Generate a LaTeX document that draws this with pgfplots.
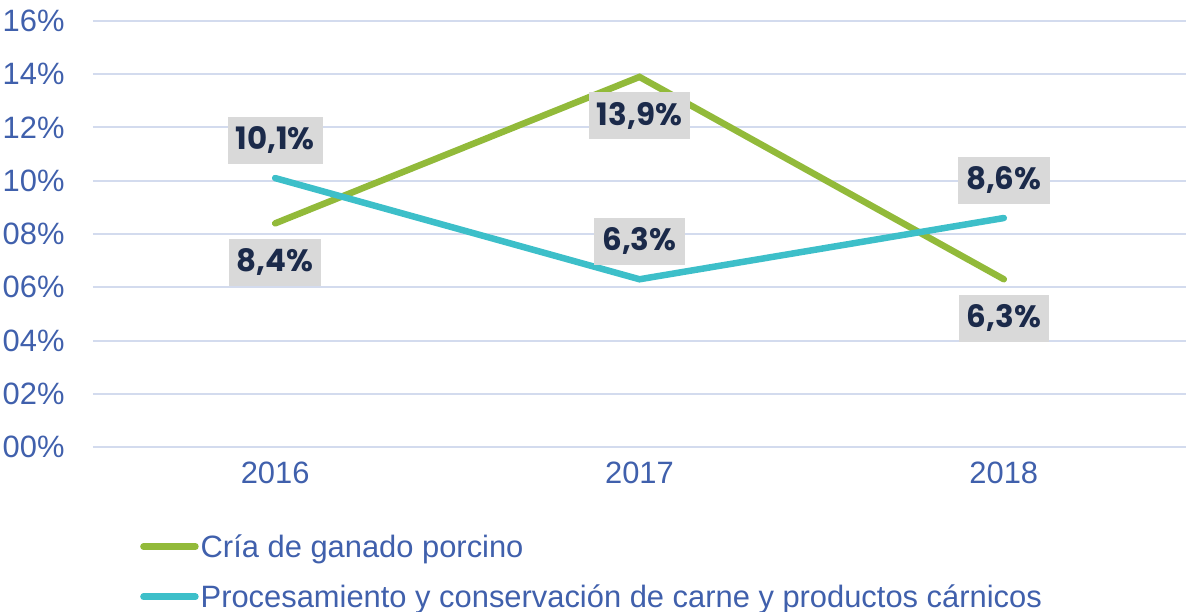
\documentclass[border=0pt]{standalone}
\usepackage{fontspec}
\setmainfont{Liberation Sans}
\newfontfamily\labfont{Poppins}
\usepackage{pgfplots}
\pgfplotsset{compat=1.18}
\definecolor{tickblue}{HTML}{4060AC}
\definecolor{cgreen}{HTML}{92BA3A}
\definecolor{cteal}{HTML}{3DBFC9}
\definecolor{gridc}{HTML}{D3DBEE}
\definecolor{boxgray}{HTML}{D9D9D9}
\definecolor{navy}{HTML}{1B2A4A}
\pgfplotstableread{
x y lab
0 8.4 {8,4\%}
1 13.9 {13,9\%}
2 6.3 {6,3\%}
}\green
\pgfplotstableread{
x y lab
0 10.1 {10,1\%}
1 6.3 {6,3\%}
2 8.6 {8,6\%}
}\teal
\begin{document}
\begin{tikzpicture}
\useasboundingbox (-93bp,-165bp) rectangle (1093bp,447bp);
\begin{axis}[
  at={(0,0)}, anchor=south west,
  scale only axis, width=1093bp, height=426bp,
  xmin=-0.5, xmax=2.5, ymin=0, ymax=16,
  xtick={0,1,2}, xticklabels={2016,2017,2018},
  ytick={0,2,...,16},
  yticklabels={00\%,02\%,04\%,06\%,08\%,10\%,12\%,14\%,16\%},
  axis line style={draw=none}, major tick length=0pt,
  ymajorgrids, grid style={gridc, line width=2bp},
  ticklabel style={font=\fontsize{31}{36}\selectfont, text=tickblue},
  yticklabel style={xshift=-25bp},
  xticklabel style={yshift=-11bp},
  clip=false,
  legend style={at={(0.043,-0.2)}, anchor=north west, draw=none, fill=none,
    font=\fontsize{31}{36}\selectfont, text=tickblue, inner sep=0pt,
    row sep=22bp, cells={anchor=west}},
  legend image code/.code={\draw[#1, line width=6.5bp, line cap=round] (0bp,0bp) -- (52bp,0bp);},
  nodes near coords,
  point meta=explicit symbolic,
  every node near coord/.append style={font=\labfont\bfseries\fontsize{31}{36}\selectfont,
     text=navy, fill=boxgray, anchor=center, inner xsep=8bp, minimum height=47bp},
]
\addplot[cgreen, line width=6.5bp, line cap=round,
  every node near coord/.append style={yshift=-39bp}] table[x=x,y=y,meta=lab] {\green};
\addlegendentry{Cría de ganado porcino}
\addplot[cteal, line width=6.5bp, line cap=round,
  every node near coord/.append style={yshift=38bp}] table[x=x,y=y,meta=lab] {\teal};
\addlegendentry{Procesamiento y conservación de carne y productos cárnicos}
\end{axis}
\end{tikzpicture}
\end{document}
